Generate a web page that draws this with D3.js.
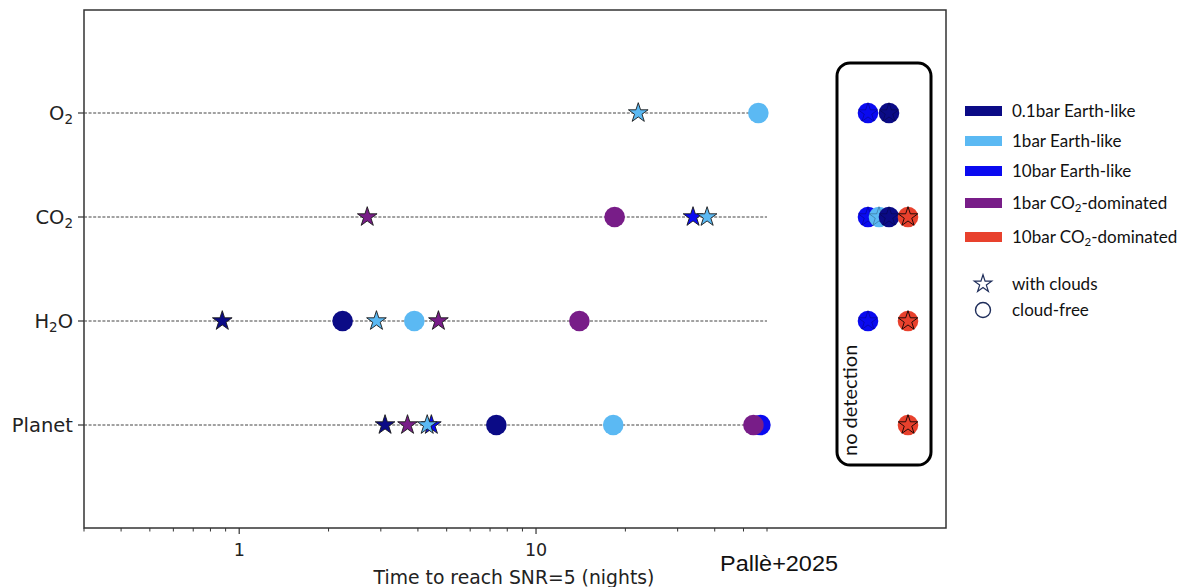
<!DOCTYPE html>
<html><head><meta charset="utf-8">
<script src="https://cdn.jsdelivr.net/npm/d3@7"></script>
<style>body{margin:0;background:#fff}</style>
</head><body>
<svg id="c" width="1180" height="587"></svg>
<script>
// ---------- data ----------
const rows = ["O2", "CO2", "H2O", "Planet"];
const rowLabelParts = [["O", "2", ""], ["CO", "2", ""], ["H", "2", "O"], ["Planet", "", ""]];
const models = ["0.1bar Earth-like", "1bar Earth-like", "10bar Earth-like", "1bar CO2-dominated", "10bar CO2-dominated"];
const modelColors = ["#0b0b86", "#5bb9f3", "#0a0af0", "#781d88", "#e8412d"];
const xMajorTicks = [1, 10];
const xMinorTicks = [0.3, 0.4, 0.5, 0.6, 0.7, 0.8, 0.9, 2, 3, 4, 5, 6, 7, 8, 9, 20, 30, 40, 50, 60];

// detections (time to reach SNR=5, nights), in drawing order
const detRow    = ["O2", "O2",
                   "CO2", "CO2", "CO2", "CO2",
                   "H2O", "H2O", "H2O", "H2O", "H2O", "H2O",
                   "Planet", "Planet", "Planet", "Planet", "Planet", "Planet", "Planet", "Planet"];
const detModel  = [1, 1,
                   3, 3, 2, 1,
                   0, 0, 1, 1, 3, 3,
                   0, 3, 2, 1, 0, 1, 2, 3];
const detClouds = [true, false,
                   true, false, true, true,
                   true, false, true, false, true, false,
                   true, true, true, true, false, false, false, false];
const detNights = [22.1, 56.1,
                   2.70, 18.4, 33.8, 37.7,
                   0.877, 2.23, 2.90, 3.89, 4.69, 14.0,
                   3.10, 3.69, 4.44, 4.30, 7.35, 18.2, 57.0, 54.0];

// no detection
const ndRow   = ["O2", "O2", "CO2", "CO2", "CO2", "CO2", "H2O", "H2O", "Planet"];
const ndModel = [2, 0, 2, 1, 0, 4, 2, 4, 4];
const ndSlotOrder = [2, 1, 0, 4];

// ---------- layout ----------
const svg = d3.select("#c");
const frame = {x0: 84, x1: 946, y0: 10, y1: 528};
const x = d3.scaleLog().domain([0.3, 60]).range([84, 767]);
const y = d3.scalePoint().domain(rows).range([113, 425]);
const box = {x0: 837, x1: 931, y0: 63, y1: 465};
const ndX = d3.scaleOrdinal().domain(ndSlotOrder).range([box.x0 + 31, box.x0 + 42, box.x0 + 52, box.x0 + 71]);

const starPath = d3.symbol().type(d3.symbolStar).size(120)();
const smallStar = d3.symbol().type(d3.symbolStar).size(95)();
const R = 10.3;

// frame
svg.append("rect").attr("x", frame.x0).attr("y", frame.y0)
  .attr("width", frame.x1 - frame.x0).attr("height", frame.y1 - frame.y0)
  .attr("fill", "none").attr("stroke", "#333").attr("stroke-width", 1.5);

// row dashed lines
svg.append("g").selectAll("line").data(rows).join("line")
  .attr("x1", x(0.3)).attr("x2", x(60))
  .attr("y1", d => y(d)).attr("y2", d => y(d))
  .attr("stroke", "#444").attr("stroke-width", 1).attr("stroke-dasharray", "3,1.6");

// y ticks & labels
const yg = svg.append("g");
yg.selectAll("line").data(rows).join("line")
  .attr("x1", frame.x0 - 6).attr("x2", frame.x0)
  .attr("y1", d => y(d)).attr("y2", d => y(d)).attr("stroke", "#333").attr("stroke-width", 1.2);
rows.forEach((r, i) => {
  const p = rowLabelParts[i];
  const t = yg.append("text").attr("x", frame.x0 - 11).attr("y", y(r) + 6.8)
    .attr("text-anchor", "end").attr("font-family", "DejaVu Sans").attr("font-size", 19.5).attr("fill", "#222");
  t.append("tspan").text(p[0]);
  if (p[1]) t.append("tspan").attr("font-size", 13.5).attr("dy", 4).text(p[1]);
  if (p[2]) t.append("tspan").attr("dy", -4).text(p[2]);
});

// x ticks
const xg = svg.append("g");
xg.selectAll("line.mn").data(xMinorTicks).join("line").attr("class", "mn")
  .attr("x1", d => x(d)).attr("x2", d => x(d)).attr("y1", frame.y1).attr("y2", frame.y1 + 3.5)
  .attr("stroke", "#333").attr("stroke-width", 1);
xg.selectAll("line.mj").data(xMajorTicks).join("line").attr("class", "mj")
  .attr("x1", d => x(d)).attr("x2", d => x(d)).attr("y1", frame.y1).attr("y2", frame.y1 + 6)
  .attr("stroke", "#333").attr("stroke-width", 1.2);
xg.selectAll("text").data(xMajorTicks).join("text")
  .attr("x", d => x(d)).attr("y", 556).attr("text-anchor", "middle")
  .attr("font-family", "DejaVu Sans").attr("font-size", 17.5).attr("fill", "#222")
  .text(d => d3.format("d")(d));
svg.append("text").attr("x", 514).attr("y", 584).attr("text-anchor", "middle")
  .attr("font-family", "DejaVu Sans").attr("font-size", 18.8).attr("fill", "#222")
  .text("Time to reach SNR=5 (nights)");
svg.append("text").attr("x", 720).attr("y", 571)
  .attr("font-family", "Liberation Sans").attr("font-size", 22).attr("fill", "#111")
  .attr("textLength", 118).attr("lengthAdjust", "spacingAndGlyphs")
  .text("Pallè+2025");

// detections
const dets = detRow.map((r, i) => ({r, m: detModel[i], c: detClouds[i], v: detNights[i]}));
const dg = svg.append("g");
dets.forEach(d => {
  if (d.c) {
    dg.append("path").attr("d", starPath)
      .attr("transform", `translate(${x(d.v)},${y(d.r)})`)
      .attr("fill", modelColors[d.m]).attr("stroke", "#1a1a1a").attr("stroke-width", 0.9);
  } else {
    dg.append("circle").attr("cx", x(d.v)).attr("cy", y(d.r)).attr("r", R)
      .attr("fill", modelColors[d.m]);
  }
});

// no detection box
svg.append("rect").attr("x", box.x0).attr("y", box.y0)
  .attr("width", box.x1 - box.x0).attr("height", box.y1 - box.y0)
  .attr("rx", 13).attr("ry", 13).attr("fill", "none").attr("stroke", "#000").attr("stroke-width", 3);
svg.append("text")
  .attr("transform", `translate(${box.x0 + 20},${box.y1 - 9}) rotate(-90)`)
  .attr("font-family", "Lato").attr("font-size", 20).attr("fill", "#111")
  .text("no detection");
const ng = svg.append("g");
ndRow.forEach((r, i) => {
  const m = ndModel[i];
  const cx = ndX(m), cy = y(r);
  ng.append("circle").attr("cx", cx).attr("cy", cy).attr("r", R).attr("fill", modelColors[m]);
  ng.append("path").attr("d", starPath).attr("transform", `translate(${cx},${cy})`)
    .attr("fill", "none").attr("stroke", "#000")
    .attr("stroke-opacity", m === 4 ? 0.85 : 0.25).attr("stroke-width", 1);
});

// legend
const lg = svg.append("g");
const legY = [111, 141, 171, 203, 237];
models.forEach((name, i) => {
  lg.append("rect").attr("x", 965).attr("y", legY[i] - 5).attr("width", 37).attr("height", 10)
    .attr("fill", modelColors[i]);
  const t = lg.append("text").attr("x", 1012).attr("y", legY[i] + 6)
    .attr("font-family", "Lato").attr("font-size", 17).attr("fill", "#111");
  const parts = name.split("CO2");
  if (parts.length > 1) {
    t.append("tspan").text(parts[0] + "CO");
    t.append("tspan").attr("font-size", 11.5).attr("dy", 3).text("2");
    t.append("tspan").attr("dy", -3).text(parts[1]);
  } else t.text(name);
});
lg.append("path").attr("d", smallStar).attr("transform", "translate(983,284)")
  .attr("fill", "none").attr("stroke", "#1e2d5a").attr("stroke-width", 1.2);
lg.append("text").attr("x", 1012).attr("y", 289.5).attr("font-family", "Lato").attr("font-size", 17).attr("fill", "#111").text("with clouds");
lg.append("circle").attr("cx", 983).attr("cy", 310).attr("r", 7.5)
  .attr("fill", "none").attr("stroke", "#1e2d5a").attr("stroke-width", 1.4);
lg.append("text").attr("x", 1012).attr("y", 315.5).attr("font-family", "Lato").attr("font-size", 17).attr("fill", "#111").text("cloud-free");
</script>
</body></html>
